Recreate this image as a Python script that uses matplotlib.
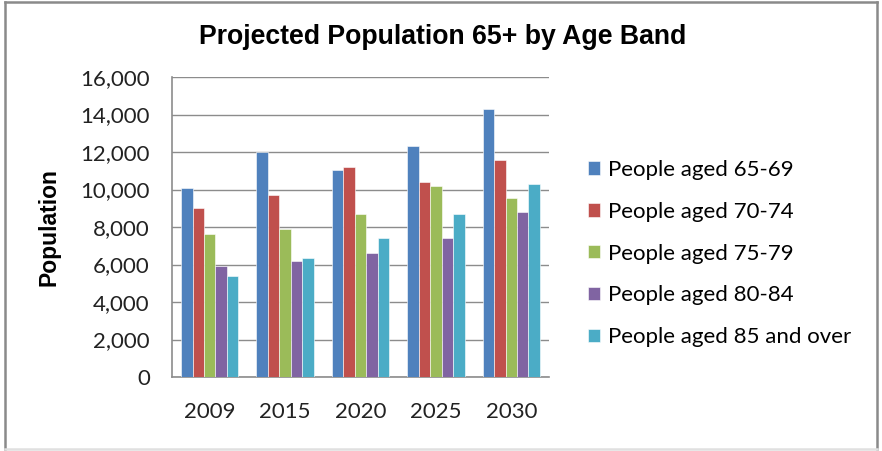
import matplotlib.pyplot as plt
import numpy as np
from matplotlib.lines import Line2D
from matplotlib.ticker import FuncFormatter

years = ["2009", "2015", "2020", "2025", "2030"]
series_labels = [
    "People aged 65-69",
    "People aged 70-74",
    "People aged 75-79",
    "People aged 80-84",
    "People aged 85 and over",
]
aged_65_69 = [10100, 12000, 11050, 12300, 14300]
aged_70_74 = [9000, 9700, 11200, 10400, 11600]
aged_75_79 = [7650, 7900, 8700, 10200, 9550]
aged_80_84 = [5900, 6200, 6600, 7400, 8800]
aged_85_over = [5400, 6350, 7400, 8700, 10300]

_COLORS = ["#4F81BD", "#C0504D", "#9BBB59", "#8064A2", "#4BACC6"]
_GRID = "#8C8C8C"

fig = plt.figure(figsize=(8.82, 4.51), dpi=100)
fig.patch.set_facecolor("white")

# outer chart border: dark on three sides, faint at the bottom
W, H = 882, 451
for xs, ys, col in [
    ([5, 5], [2, 449], "#8A8A8A"),
    ([5, 877], [2, 2], "#8A8A8A"),
    ([877, 877], [2, 449], "#8A8A8A"),
    ([5, 877], [449, 449], "#E0E0E0"),
]:
    fig.lines.append(Line2D([v / W for v in xs], [1 - v / H for v in ys],
                            transform=fig.transFigure, color=col, linewidth=1.8))

ax = fig.add_axes([172 / W, 1 - 377 / H, 377 / W, 300 / H])

all_series = [aged_65_69, aged_70_74, aged_75_79, aged_80_84, aged_85_over]
x = np.arange(len(years))
bar_w = 0.152
for i, (vals, label, color) in enumerate(zip(all_series, series_labels, _COLORS)):
    offs = (i - 2) * bar_w
    ax.bar(x + offs, vals, width=bar_w, color=color, label=label,
           edgecolor="#FFFFFF", linewidth=0.4, zorder=3)

ax.set_xlim(-0.5, len(years) - 0.5)
ax.set_ylim(0, 16000)
ax.set_yticks(np.arange(0, 16001, 2000))
ax.yaxis.set_major_formatter(FuncFormatter(lambda v, _: f"{int(v):,}"))
ax.set_xticks(x)
ax.set_xticklabels(years)

ax.grid(axis="y", color=_GRID, linewidth=1.0, zorder=0)
ax.set_axisbelow(True)
for side in ["top", "right"]:
    ax.spines[side].set_visible(False)
for side in ["left", "bottom"]:
    ax.spines[side].set_color(_GRID)
    ax.spines[side].set_linewidth(1.2)
ax.tick_params(axis="both", length=0, labelsize=16, colors="#222222")
ax.tick_params(axis="y", pad=16)
ax.tick_params(axis="x", pad=18)
for lbl in ax.get_xticklabels() + ax.get_yticklabels():
    lbl.set_family("Lato")

ax.set_ylabel("Population", fontsize=16.5, fontweight="bold",
              family="Liberation Sans")
ax.yaxis.set_label_coords((60 - 172) / 377, 0.5)

fig.text(443 / W, 1 - 37 / H, "Projected Population 65+ by Age Band",
         ha="center", va="center", fontsize=19.2, fontweight="bold",
         family="Liberation Sans")

fig.legend(loc="upper left", bbox_to_anchor=(568 / W, 1 - 140 / H),
           frameon=False, prop={"family": "Lato", "size": 16},
           handlelength=0.55, handleheight=0.55, handletextpad=0.35,
           labelspacing=0.98)

plt.savefig("out.png", dpi=100, facecolor="white")
